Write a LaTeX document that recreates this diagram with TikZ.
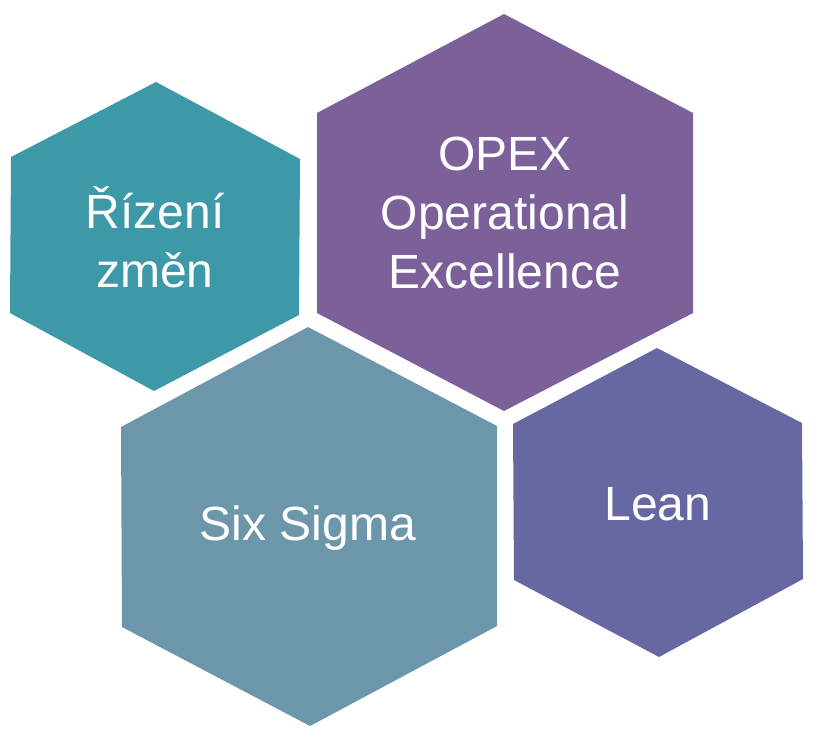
\documentclass[tikz,border=0pt]{standalone}
\usepackage{fontspec}
\setmainfont{Liberation Sans}
\usetikzlibrary{positioning}
\definecolor{hxTeal}{RGB}{61,152,168}
\definecolor{hxPurple}{RGB}{123,96,153}
\definecolor{hxSteel}{RGB}{108,150,170}
\definecolor{hxIndigo}{RGB}{103,103,162}

\begin{document}
\begin{tikzpicture}[x=1pt, y=-1pt,
  lbl/.style={text=white, align=center, inner sep=0pt, anchor=base,
    font=\fontsize{48}{59}\selectfont}]
\useasboundingbox (0,0) rectangle (814,734);
% rizeni zmen
\fill[hxTeal]   (156,82) -- (300,159) -- (299,315) -- (154,391) -- (10,313) -- (11,157) -- cycle;
\node[lbl] (rizeni) at (155,287) {Řízení\\změn};
% opex
\fill[hxPurple] (504,14) -- (693,113) -- (693,313) -- (504,411) -- (317,313) -- (317,113) -- cycle;
\node[lbl] (opex) at (505,288) {OPEX\\Operational\\Excellence};
% six sigma
\fill[hxSteel]  (308,327) -- (497,426) -- (497,626) -- (310,726) -- (122,627) -- (121,427) -- cycle;
\node[lbl] (sigma) at (308,540) {Six Sigma};
% lean
\fill[hxIndigo] (657,348) -- (802,423) -- (803,579) -- (659,657) -- (514,580) -- (513,424) -- cycle;
\node[lbl] (lean) at (658,520) {Lean};
\end{tikzpicture}
\end{document}
